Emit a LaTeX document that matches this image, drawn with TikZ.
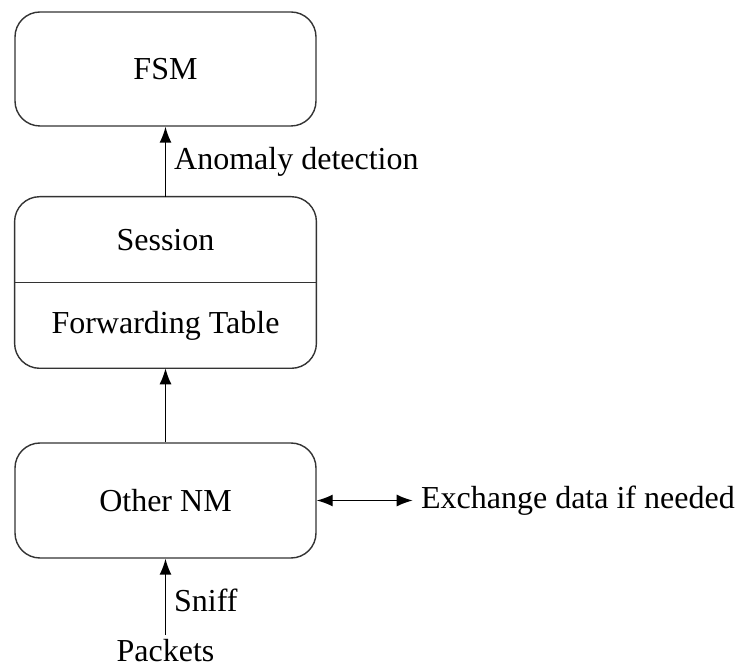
\documentclass[tikz,border=0pt]{standalone}
\usepackage{fontspec}
\setmainfont{Liberation Serif}
\usetikzlibrary{arrows.meta, positioning}
\tikzset{
  block/.style={draw=black!80,line width=0.7pt,rounded corners=12.5pt,minimum width=150.5pt,inner sep=0pt,font=\fontsize{16}{19}\selectfont},
  part/.style={minimum width=150.5pt,minimum height=42.5pt,inner sep=0pt,font=\fontsize{16}{19}\selectfont},
  tag/.style={inner sep=2pt,font=\fontsize{16}{19}\selectfont},
  flow/.style={line width=0.7pt,-{Latex[length=8pt,width=6pt]}},
  swap/.style={line width=0.7pt,{Latex[length=8pt,width=6pt]}-{Latex[length=8pt,width=6pt]}},
}

\begin{document}
\begin{tikzpicture}[x=0.5pt,y=-0.5pt]
	    \useasboundingbox (0,0) rectangle (739,667);
	    \node[block,minimum height=57pt] (fsm) at (165.5,69) {FSM};
	    \node[part,below=35pt of fsm] (session) {Session};
	    \node[part,below=0pt of session] (table) {Forwarding Table};
	    \draw[black!80,line width=0.7pt,rounded corners=12.5pt] (session.north west) rectangle (table.south east);
	    \draw[black!80,line width=0.7pt] (session.south west) -- (session.south east);
	    \node[block,minimum height=57.5pt,below=37pt of table] (nm) {Other NM};
	    \node[tag,right=50pt of nm] (exchange) {Exchange data if needed};
	    \node[tag,below=38pt of nm] (packets) {Packets};
	    \draw[flow] (session.north) -- node[tag,midway,right=2pt] {Anomaly detection} (fsm.south);
	    \draw[flow] (nm.north) -- (table.south);
	    \draw[swap,shorten >=2pt] (nm.east) -- (exchange.west);
	    \draw[flow] (packets.north) -- node[tag,midway,right=2pt,yshift=-2pt] {Sniff} (nm.south);
	\end{tikzpicture}
\end{document}
